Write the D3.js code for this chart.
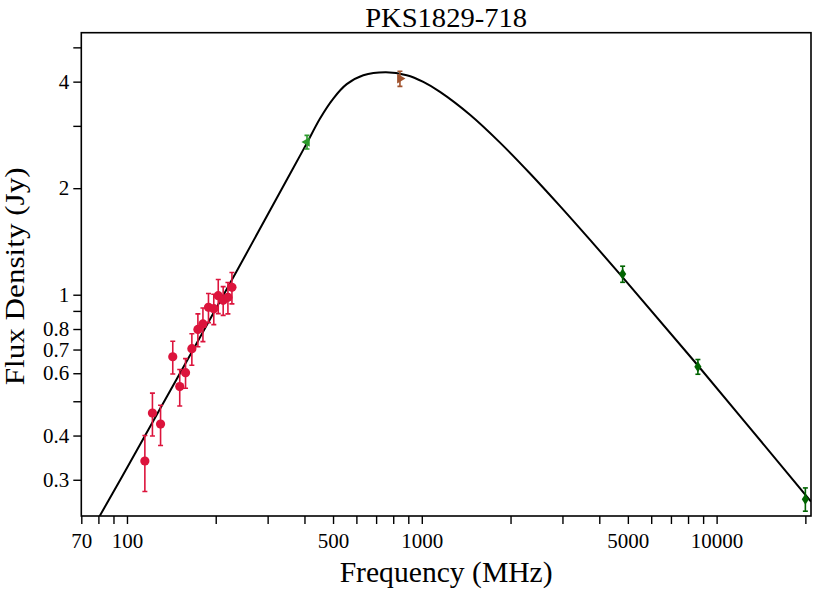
<!DOCTYPE html>
<html>
<head>
<meta charset="utf-8">
<script src="https://cdn.jsdelivr.net/npm/d3@7"></script>
<style>
  html, body { margin: 0; padding: 0; background: #fff; }
  svg text { font-family: "Liberation Serif", "DejaVu Serif", serif; fill: #000; }
</style>
</head>
<body>
<svg id="chart" width="830" height="595"></svg>
<script>
// ---- data ----
const titleText = "PKS1829-718";
const xLabel = "Frequency (MHz)";
const yLabel = "Flux Density (Jy)";

const xTicks = [70, 80, 90, 100, 200, 300, 400, 500, 600, 700, 800, 900, 1000, 2000, 3000, 4000, 5000, 6000, 7000, 8000, 9000, 10000, 20000];
const xTickLabels = [70, 100, 500, 1000, 5000, 10000];
const yTicks = [0.3, 0.4, 0.5, 0.6, 0.7, 0.8, 0.9, 1, 2, 3, 4, 5];
const yTickLabels = [0.3, 0.4, 0.6, 0.7, 0.8, 1, 2, 4];

// low-frequency points (red circles)
const gleamFreq = [115, 122, 130, 143, 151, 158, 166, 174, 181, 189, 197, 204, 212, 220, 227];
const gleamFlux = [0.339, 0.463, 0.431, 0.668, 0.550, 0.602, 0.704, 0.798, 0.827, 0.921, 0.913, 0.994, 0.964, 0.983, 1.049];
const gleamErr  = [0.061, 0.064, 0.056, 0.071, 0.065, 0.058, 0.072, 0.085, 0.09, 0.087, 0.09, 0.11, 0.09, 0.1, 0.107];

// 408 MHz point (green, left triangle)
const p408Freq = [408];
const p408Flux = [2.70];
const p408Err  = [0.12];

// 843 MHz point (brown, right triangle)
const p843Freq = [843];
const p843Flux = [4.08];
const p843Err  = [0.2];

// high-frequency points (dark green, thin diamonds)
const hfFreq = [4800, 8640, 20000];
const hfFlux = [1.144, 0.626, 0.2645];
const hfErr  = [0.06, 0.03, 0.02];

// fitted model curve
const curveFreq = [78, 102.4, 236.8, 364.9, 407, 451.7, 501, 556.4, 633.4, 756, 889, 1012, 1153, 1457, 1842, 2329, 2944, 3722, 4778, 8583, 20900];
const curveFlux = [0.225, 0.3355, 1.174, 2.265, 2.676, 3.148, 3.584, 3.935, 4.172, 4.254, 4.172, 3.994, 3.743, 3.225, 2.690, 2.200, 1.779, 1.428, 1.125, 0.635, 0.2603];

// ---- layout ----
const plotL = 81.3, plotR = 811, plotT = 32.7, plotB = 516;
const svg = d3.select("#chart");

const x = d3.scaleLog().domain([70, 20900]).range([plotL, plotR]);
const y = d3.scaleLog().domain([0.237, 5.5]).range([plotB, plotT]);

// clip
svg.append("defs").append("clipPath").attr("id", "plotclip")
  .append("rect").attr("x", plotL).attr("y", plotT)
  .attr("width", plotR - plotL).attr("height", plotB - plotT);

// axes
const fmt = d => d3.format("~g")(d);
const xAxis = d3.axisBottom(x).tickValues(xTicks)
  .tickFormat(d => xTickLabels.includes(d) ? String(d) : "")
  .tickSize(8).tickSizeOuter(0).tickPadding(4);
const yAxis = d3.axisLeft(y).tickValues(yTicks)
  .tickFormat(d => yTickLabels.includes(d) ? fmt(d) : "")
  .tickSize(8).tickSizeOuter(0).tickPadding(4);

const gx = svg.append("g").attr("transform", `translate(0,${plotB})`).call(xAxis);
const gy = svg.append("g").attr("transform", `translate(${plotL},0)`).call(yAxis);
[gx, gy].forEach(g => {
  g.select(".domain").remove();
  g.selectAll(".tick line").attr("stroke", "#000").attr("stroke-width", 1.4);
  g.selectAll(".tick text").style("font-size", "21px").style("font-family", "'Liberation Serif', serif");
});
gx.selectAll(".tick text").attr("dy", "0.95em");

// model curve
const plot = svg.append("g").attr("clip-path", "url(#plotclip)");
const curveData = curveFreq.map((f, i) => [f, curveFlux[i]]);
plot.append("path")
  .datum(curveData)
  .attr("fill", "none").attr("stroke", "#000").attr("stroke-width", 2)
  .attr("d", d3.line().x(d => x(d[0])).y(d => y(d[1])).curve(d3.curveCatmullRom.alpha(0.5)));

// error bars helper
function errorBars(freqs, flux, err, color, cap) {
  const g = plot.append("g").attr("stroke", color).attr("stroke-width", 1.6);
  freqs.forEach((f, i) => {
    const cx = x(f), y1 = y(flux[i] + err[i]), y2 = y(flux[i] - err[i]);
    g.append("line").attr("x1", cx).attr("x2", cx).attr("y1", y1).attr("y2", y2);
    g.append("line").attr("x1", cx - cap).attr("x2", cx + cap).attr("y1", y1).attr("y2", y1);
    g.append("line").attr("x1", cx - cap).attr("x2", cx + cap).attr("y1", y2).attr("y2", y2);
  });
}

// red circles
errorBars(gleamFreq, gleamFlux, gleamErr, "#dc143c", 2.5);
plot.append("g").selectAll("circle").data(gleamFreq).join("circle")
  .attr("cx", d => x(d)).attr("cy", (d, i) => y(gleamFlux[i])).attr("r", 4.6)
  .attr("fill", "#dc143c");

// 408 triangle (pointing left)
errorBars(p408Freq, p408Flux, p408Err, "#2a9a2a", 2.5);
plot.append("g").selectAll("path").data(p408Freq).join("path")
  .attr("transform", (d, i) => `translate(${x(d)},${y(p408Flux[i])}) rotate(-90)`)
  .attr("d", d3.symbol(d3.symbolTriangle, 40)())
  .attr("fill", "#2a9a2a");

// 843 triangle (pointing right)
errorBars(p843Freq, p843Flux, p843Err, "#a0522d", 2.5);
plot.append("g").selectAll("path").data(p843Freq).join("path")
  .attr("transform", (d, i) => `translate(${x(d)},${y(p843Flux[i])}) rotate(90)`)
  .attr("d", d3.symbol(d3.symbolTriangle, 40)())
  .attr("fill", "#a0522d");

// dark green thin diamonds
errorBars(hfFreq, hfFlux, hfErr, "#006400", 2.5);
plot.append("g").selectAll("path").data(hfFreq).join("path")
  .attr("transform", (d, i) => `translate(${x(d)},${y(hfFlux[i])})`)
  .attr("d", "M0,-5.5L3.6,0L0,5.5L-3.6,0Z")
  .attr("fill", "#006400");

// frame
svg.append("rect").attr("x", plotL).attr("y", plotT)
  .attr("width", plotR - plotL).attr("height", plotB - plotT)
  .attr("fill", "none").attr("stroke", "#000").attr("stroke-width", 1.6);

// title and labels
svg.append("text").attr("x", (plotL + plotR) / 2).attr("y", 27)
  .attr("text-anchor", "middle").style("font-size", "28px")
  .attr("textLength", 162).attr("lengthAdjust", "spacingAndGlyphs").text(titleText);
svg.append("text").attr("x", (plotL + plotR) / 2).attr("y", 582)
  .attr("text-anchor", "middle").style("font-size", "29px")
  .attr("textLength", 213).attr("lengthAdjust", "spacingAndGlyphs").text(xLabel);
svg.append("text")
  .attr("transform", `translate(24,${(plotT + plotB) / 2 + 2}) rotate(-90)`)
  .attr("text-anchor", "middle").style("font-size", "28px")
  .attr("textLength", 218).attr("lengthAdjust", "spacingAndGlyphs").text(yLabel);
</script>
</body>
</html>
